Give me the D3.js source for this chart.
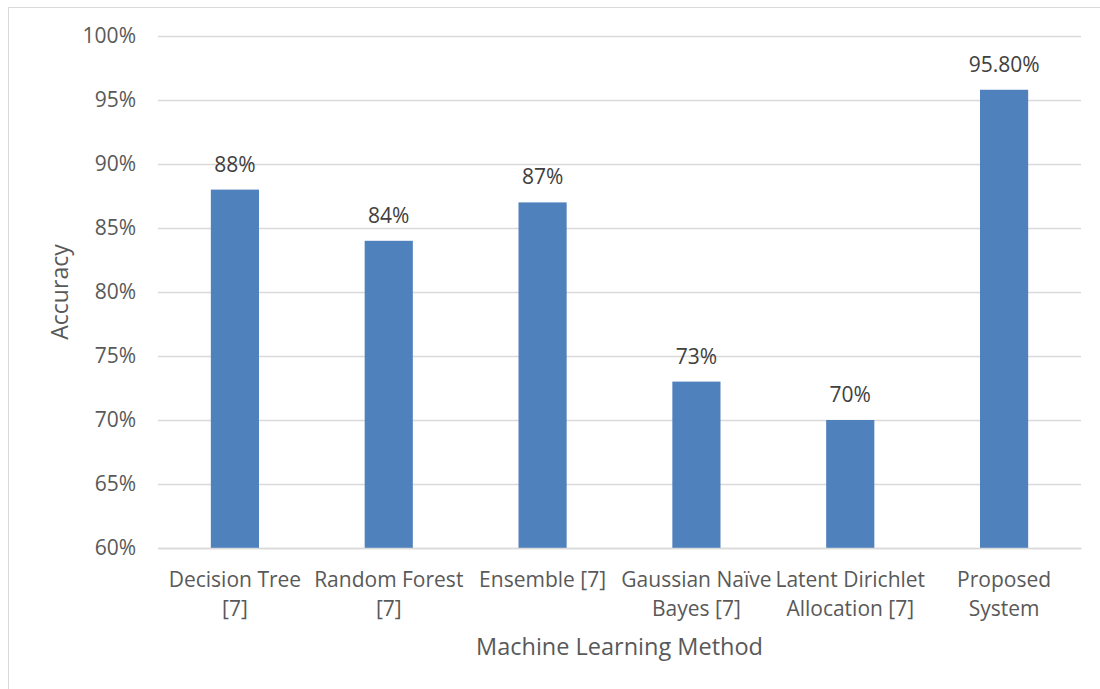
<!DOCTYPE html>
<html>
<head>
<meta charset="utf-8">
<script src="https://cdn.jsdelivr.net/npm/d3@7"></script>
<style>
  html, body { margin: 0; padding: 0; background: #fff; }
  svg { display: block; font-family: "Open Sans", "Noto Sans", sans-serif; }
</style>
</head>
<body>
<svg id="chart" width="1100" height="689"></svg>
<script>
const categories = [
  "Decision Tree\n[7]",
  "Random Forest\n[7]",
  "Ensemble [7]",
  "Gaussian Naïve\nBayes [7]",
  "Latent Dirichlet\nAllocation [7]",
  "Proposed\nSystem"
];
const accuracy = [88, 84, 87, 73, 70, 95.8];
const valueLabels = ["88%", "84%", "87%", "73%", "70%", "95.80%"];
const yTicks = [60, 65, 70, 75, 80, 85, 90, 95, 100];
const yTitle = "Accuracy";
const xTitle = "Machine Learning Method";

const svg = d3.select("#chart");
const W = 1100, H = 689;
const plot = { left: 158, right: 1081, top: 36, bottom: 548 };

svg.append("rect")
  .attr("x", 8.5).attr("y", 7.5)
  .attr("width", W).attr("height", H + 20)
  .attr("fill", "#fff").attr("stroke", "#d9d9d9").attr("stroke-width", 1);

const x = d3.scaleBand()
  .domain(categories)
  .range([plot.left, plot.right])
  .paddingInner(0.687)
  .paddingOuter(0.3435);

const y = d3.scaleLinear()
  .domain([60, 100])
  .range([plot.bottom, plot.top]);

// gridlines
const yAxis = d3.axisLeft(y)
  .tickValues(yTicks)
  .tickSize(-(plot.right - plot.left))
  .tickPadding(22)
  .tickFormat(d => d + "%");

const gy = svg.append("g")
  .attr("transform", `translate(${plot.left},0)`)
  .call(yAxis);
gy.select(".domain").remove();
gy.selectAll(".tick line").attr("stroke", "#d9d9d9").attr("stroke-width", 1.3);
gy.selectAll(".tick text")
  .attr("fill", "#595959")
  .style("font-size", "21px")
  .style("font-family", "\"Open Sans\", sans-serif");

// bars
svg.append("g").selectAll("rect")
  .data(accuracy)
  .join("rect")
  .attr("x", (d, i) => x(categories[i]))
  .attr("y", d => y(d))
  .attr("width", x.bandwidth())
  .attr("height", d => y(60) - y(d))
  .attr("fill", "#4f81bd");

// value labels
svg.append("g").selectAll("text")
  .data(accuracy)
  .join("text")
  .attr("x", (d, i) => x(categories[i]) + x.bandwidth() / 2)
  .attr("y", d => y(d) - 18)
  .attr("text-anchor", "middle")
  .attr("fill", "#404040")
  .style("font-size", "21px")
  .text((d, i) => valueLabels[i]);

// x axis
const xAxis = d3.axisBottom(x).tickSize(0).tickPadding(0);
const gx = svg.append("g")
  .attr("transform", `translate(0,${plot.bottom})`)
  .call(xAxis);
gx.select(".domain").attr("stroke", "#d9d9d9").attr("stroke-width", 1.3);
gx.selectAll(".tick text").remove();
gx.selectAll(".tick").each(function(d) {
  const lines = d.split("\n");
  const t = d3.select(this).append("text")
    .attr("text-anchor", "middle")
    .attr("fill", "#595959")
    .style("font-size", "21px")
    .style("font-family", "\"Open Sans\", sans-serif");
  lines.forEach((ln, k) => {
    t.append("tspan").attr("x", 0).attr("y", 39 + k * 29).text(ln);
  });
});

// axis titles
svg.append("text")
  .attr("x", (plot.left + plot.right) / 2)
  .attr("y", 655)
  .attr("text-anchor", "middle")
  .attr("fill", "#595959")
  .style("font-size", "23.5px")
  .text(xTitle);

svg.append("text")
  .attr("transform", `translate(68,${(plot.top + plot.bottom) / 2}) rotate(-90)`)
  .attr("text-anchor", "middle")
  .attr("fill", "#595959")
  .style("font-size", "23px")
  .text(yTitle);
</script>
</body>
</html>
